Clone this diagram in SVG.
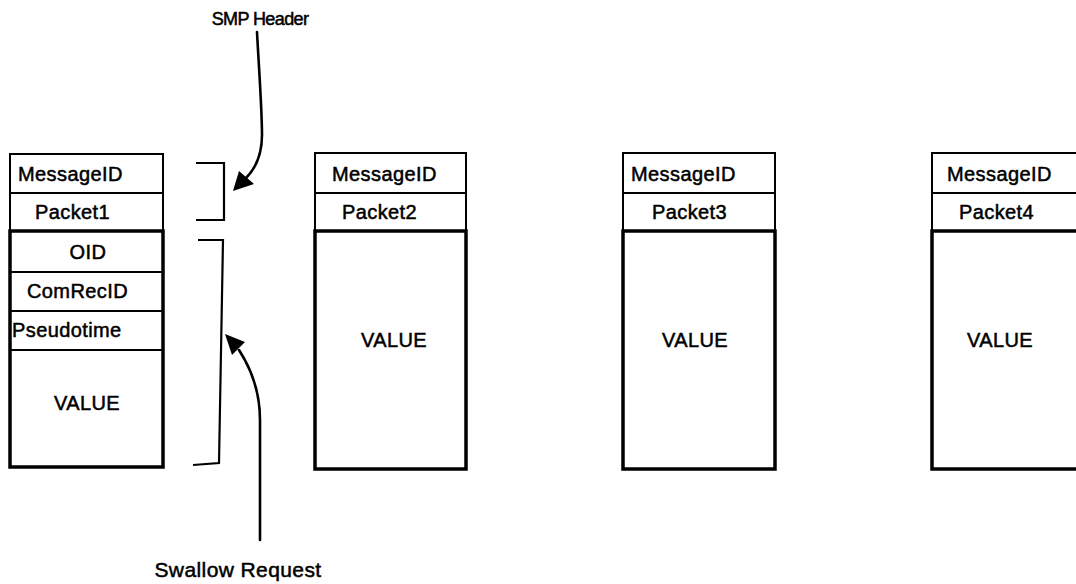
<svg xmlns="http://www.w3.org/2000/svg" width="1076" height="584" viewBox="0 0 1076 584">
  <style>
    .thin { fill: none; stroke: #000; stroke-width: 2; }
    .thick { fill: none; stroke: #000; stroke-width: 3.5; }
    .div { stroke: #000; stroke-width: 2; }
    .lbl { font-family: "Liberation Sans", Arial, sans-serif; font-size: 20px; letter-spacing: 0.4px; fill: #000; stroke: #000; stroke-width: 0.5px; }
    .mid { text-anchor: middle; }
    .cap { font-size: 18px; letter-spacing: -0.6px; }
    .cap2 { font-size: 21px; }
    .wire { fill: none; stroke: #000; stroke-width: 2.6; stroke-linecap: round; }
    .br { fill: none; stroke: #000; stroke-width: 2.2; }
  </style>
  <rect width="1076" height="584" fill="#fff"/>

  <!-- packet 1: header plus the expanded body fields -->
  <g id="packet1">
    <rect class="thin" x="10" y="154" width="153" height="77"/>
    <line class="div" x1="10" y1="193" x2="163" y2="193"/>
    <rect class="thick" x="10" y="231" width="153" height="236"/>
    <line class="div" x1="10" y1="272" x2="163" y2="272"/>
    <line class="div" x1="10" y1="311" x2="163" y2="311"/>
    <line class="div" x1="10" y1="350" x2="163" y2="350"/>
    <text class="lbl" x="18" y="181">MessageID</text>
    <text class="lbl" x="35" y="219">Packet1</text>
    <text class="lbl mid" x="88" y="259">OID</text>
    <text class="lbl" x="27" y="298">ComRecID</text>
    <text class="lbl" x="12" y="337">Pseudotime</text>
    <text class="lbl mid" x="87" y="410">VALUE</text>
  </g>

  <g id="packet2">
    <rect class="thin" x="315" y="153" width="151" height="78"/>
    <line class="div" x1="315" y1="193" x2="466" y2="193"/>
    <rect class="thick" x="315" y="231" width="151" height="238"/>
    <text class="lbl" x="332" y="181">MessageID</text>
    <text class="lbl" x="342" y="219">Packet2</text>
    <text class="lbl mid" x="394" y="347">VALUE</text>
  </g>

  <g id="packet3">
    <rect class="thin" x="623" y="153" width="152" height="78"/>
    <line class="div" x1="623" y1="193" x2="775" y2="193"/>
    <rect class="thick" x="623" y="231" width="152" height="238"/>
    <text class="lbl" x="631" y="181">MessageID</text>
    <text class="lbl" x="652" y="219">Packet3</text>
    <text class="lbl mid" x="695" y="347">VALUE</text>
  </g>

  <g id="packet4">
    <rect class="thin" x="932" y="153" width="152" height="78"/>
    <line class="div" x1="932" y1="193" x2="1084" y2="193"/>
    <rect class="thick" x="932" y="231" width="152" height="238"/>
    <text class="lbl" x="947" y="181">MessageID</text>
    <text class="lbl" x="959" y="219">Packet4</text>
    <text class="lbl mid" x="1000" y="347">VALUE</text>
  </g>

  <!-- braces grouping the header rows and the body rows of packet 1 -->
  <g id="braces">
    <path class="br" d="M196,163 H224 V220 H196"/>
    <path class="br" d="M198,240 H223 L219,463 L193,465"/>
  </g>

  <g id="callouts">
    <text class="lbl cap mid" x="260" y="25">SMP Header</text>
    <text class="lbl cap2 mid" x="238" y="577">Swallow Request</text>
  </g>

  <g id="connectors">
    <path class="wire" d="M257,32 C259,70 262,110 262,135 C262,155 256,168 246,178"/>
    <polygon points="233,191 239,171 254,184"/>
    <path class="wire" d="M260,540 L260,420 C260,395 252,370 239,350"/>
    <polygon points="225,334 232,355 245,342"/>
  </g>
</svg>
